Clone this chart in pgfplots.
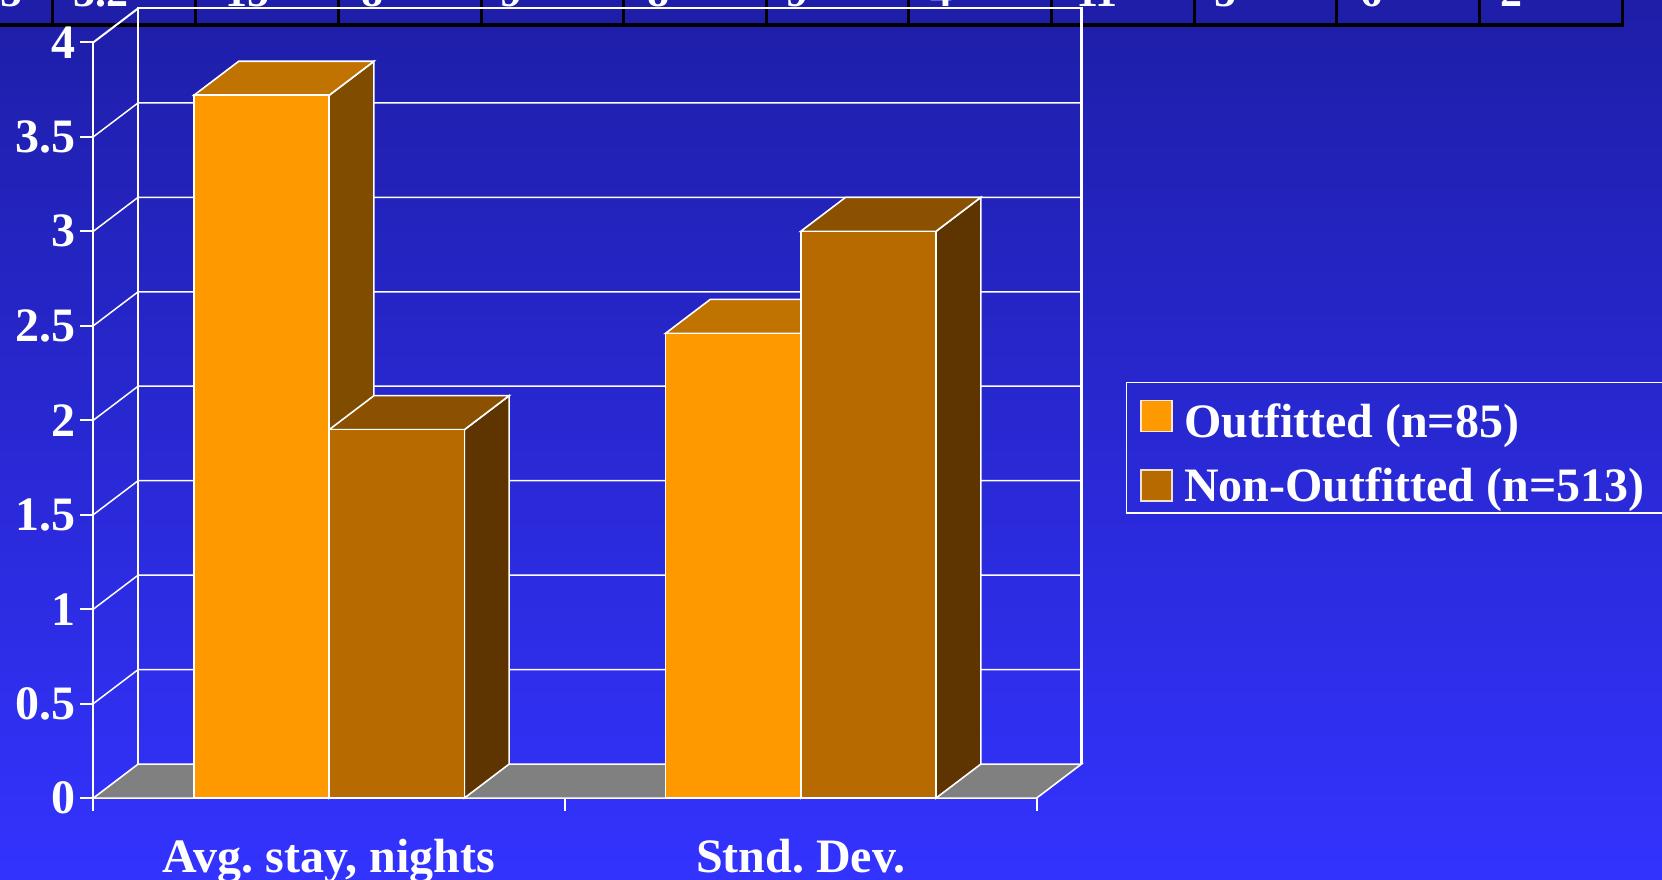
\documentclass[border=0pt]{standalone}
\usepackage{pgfplots}
\pgfplotsset{compat=1.18}
\usepackage{pgfplotstable}
\usepackage{fontspec}
\setmainfont{Liberation Serif}
\frenchspacing

\definecolor{bgtop}{RGB}{30,30,168}
\definecolor{bgbot}{RGB}{51,51,255}
\definecolor{orF}{RGB}{255,153,0}
\definecolor{orT}{RGB}{192,115,0}
\definecolor{orS}{RGB}{128,77,0}
\definecolor{brF}{RGB}{182,106,0}
\definecolor{brT}{RGB}{139,81,0}
\definecolor{brS}{RGB}{94,53,0}
\definecolor{floorc}{RGB}{128,128,128}

\pgfplotstableread{
x outfitted nonoutfitted
0.5 3.72 1.95
1.5 2.46 3.00
}\datatable

\def\bw{0.2867}
\def\hbw{0.14335}
\def\dxd{0.095}
\def\dyd{0.18}

\newcommand\barfaces[4]{%
  \pgfmathsetmacro\xa{#1}%
  \pgfmathsetmacro\xb{#1+\bw}%
  \pgfmathsetmacro\xc{#1+\dxd}%
  \pgfmathsetmacro\xd{#1+\bw+\dxd}%
  \pgfmathsetmacro\yv{#2}%
  \pgfmathsetmacro\yt{#2+\dyd}%
  \edef\tmp{%
    \noexpand\addplot[forget plot, draw=white, line width=1.6pt, fill=#4] coordinates {(\xb,0) (\xd,\dyd) (\xd,\yt) (\xb,\yv)} --cycle;%
    \noexpand\addplot[forget plot, draw=white, line width=1.6pt, fill=#3] coordinates {(\xa,\yv) (\xb,\yv) (\xd,\yt) (\xc,\yt)} --cycle;%
  }\tmp}

\begin{document}
\begin{tikzpicture}
% background
\shade[top color=bgtop, bottom color=bgbot] (0pt,0pt) rectangle (1662pt,880pt);
% table fragment at top
\fill[bgtop] (0pt,855pt) rectangle (1622pt,880pt);
\foreach \xx in {52,195,338,481,623,766,908,1051,1194,1336,1479,1622}
  \draw[black, line width=3pt] (\xx pt,855pt) -- (\xx pt,881pt);
\draw[black, line width=3.5pt] (-1pt,855pt) -- (1623.5pt,855pt);
\foreach \xx/\tt in {0/5,73/3.2,225/15,361/8,500/9,647/8,786/9,930/4,1076/11,1214/5,1360/6,1500/2}
  \node[anchor=base west, inner sep=0pt, text=white, font=\bfseries\fontsize{44}{50}\selectfont] at (\xx pt,873pt) {\tt};

\pgfplotstablegetelem{0}{outfitted}\of\datatable\edef\vA{\pgfplotsretval}
\pgfplotstablegetelem{0}{nonoutfitted}\of\datatable\edef\vB{\pgfplotsretval}
\pgfplotstablegetelem{1}{outfitted}\of\datatable\edef\vC{\pgfplotsretval}
\pgfplotstablegetelem{1}{nonoutfitted}\of\datatable\edef\vD{\pgfplotsretval}

\begin{axis}[
  at={(93.3pt,81.9pt)}, anchor=south west,
  scale only axis, width=943.3pt, height=755.7pt,
  xmin=0, xmax=2, ymin=0, ymax=4,
  enlargelimits=false,
  clip=false,
  axis lines*=left,
  axis line style={-, white, line width=2.2pt},
  ytick={0,0.5,1,1.5,2,2.5,3,3.5,4},
  yticklabels={0,0.5,1,1.5,2,2.5,3,3.5,4},
  xtick={0.5,1.5},
  xticklabels={{Avg. stay, nights},{Stnd. Dev.}},
  minor xtick={0,1,2},
  tick align=outside,
  major tick length=13pt, minor tick length=13pt,
  major x tick style={draw=none},
  minor x tick style={white, line width=2pt},
  ytick style={white, line width=2pt},
  tick label style={font=\bfseries\fontsize{48}{56}\selectfont, text=white},
  yticklabel style={inner sep=5pt},
  xticklabel style={inner sep=0pt, yshift=-28pt},
  legend image code/.code={\draw[#1] (0pt,-15.5pt) rectangle (31pt,15.5pt);},
  legend style={at={(1.0943,0.5511)}, anchor=north west, draw=white, line width=1.5pt,
    fill=none, text=white, font=\bfseries\fontsize{48}{56}\selectfont,
    inner xsep=14pt, inner ysep=7pt, row sep=23pt, nodes={inner xsep=11.5pt, inner ysep=3pt}},
  legend cell align=left,
]
% back wall and floor
\addplot[forget plot, draw=white, line width=1.6pt, fill=floorc] coordinates {(0,0) (2,0) (2.095,0.18) (0.095,0.18)} --cycle;
\addplot[forget plot, white, line width=1.5pt, unbounded coords=jump] coordinates {
 (0.095,0.68) (2.095,0.68) (nan,nan)
 (0.095,1.18) (2.095,1.18) (nan,nan)
 (0.095,1.68) (2.095,1.68) (nan,nan)
 (0.095,2.18) (2.095,2.18) (nan,nan)
 (0.095,2.68) (2.095,2.68) (nan,nan)
 (0.095,3.18) (2.095,3.18) (nan,nan)
 (0.095,3.68) (2.095,3.68) (nan,nan)
 (0,0.5) (0.095,0.68) (nan,nan)
 (0,1) (0.095,1.18) (nan,nan)
 (0,1.5) (0.095,1.68) (nan,nan)
 (0,2) (0.095,2.18) (nan,nan)
 (0,2.5) (0.095,2.68) (nan,nan)
 (0,3) (0.095,3.18) (nan,nan)
 (0,3.5) (0.095,3.68) (nan,nan)
};
\addplot[forget plot, white, line width=2.2pt] coordinates {(0.095,0.18) (0.095,4.18) (2.095,4.18) (2.095,0.18)};
\addplot[forget plot, white, line width=2pt] coordinates {(0,4) (0.095,4.18)};
% 3D bar faces
\barfaces{0.5-\bw}{\vA}{orT}{orS}
\barfaces{0.5}{\vB}{brT}{brS}
\barfaces{1.5-\bw}{\vC}{orT}{orS}
\barfaces{1.5}{\vD}{brT}{brS}
% front faces
\addplot[forget plot, ybar, bar width=\bw, bar shift=0pt, fill=orF, draw=white, line width=1.6pt]
  table[x expr=\thisrow{x}-\hbw, y=outfitted]{\datatable};
\addplot[forget plot, ybar, bar width=\bw, bar shift=0pt, fill=brF, draw=white, line width=1.6pt]
  table[x expr=\thisrow{x}+\hbw, y=nonoutfitted]{\datatable};
% legend
\addlegendimage{draw=white!80!orF, fill=orF, line width=1.2pt}
\addlegendentry{\rule{0pt}{45pt}Outfitted (n=85)}
\addlegendimage{draw=white!80!brF, fill=brF, line width=1.2pt}
\addlegendentry{Non-Outfitted (n=513)\hspace*{60pt}}
\end{axis}
\pgfresetboundingbox
\useasboundingbox (0pt,0pt) rectangle (1662pt,880pt);
\end{tikzpicture}
\end{document}
